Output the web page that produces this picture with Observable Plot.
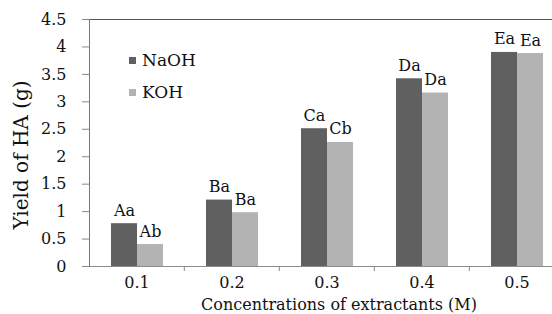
<!DOCTYPE html>
<html>
<head>
<meta charset="utf-8">
<script src="https://cdn.jsdelivr.net/npm/d3@7"></script>
<script src="https://cdn.jsdelivr.net/npm/@observablehq/plot@0.6"></script>
<style>
  html, body { margin: 0; padding: 0; background: #fff; overflow: hidden; }
  #wrap { position: relative; width: 552px; height: 314px; font-family: "DejaVu Serif", serif; }
  #wrap svg, #wrap svg text { font-family: "DejaVu Serif", serif !important; }
  .legend { position: absolute; left: 129px; top: 44px; font-family: "DejaVu Serif", serif; font-size: 17px; color: #111; }
  .legend .item { display: flex; align-items: center; height: 32px; }
  .legend .sw { width: 7px; height: 7px; margin-right: 6px; }
</style>
</head>
<body>
<div id="wrap"></div>
<script>
const concentrations = ["0.1", "0.2", "0.3", "0.4", "0.5"];
const series = ["NaOH", "KOH"];
const naohValues = [0.78, 1.21, 2.51, 3.42, 3.90];
const kohValues = [0.40, 0.98, 2.26, 3.16, 3.88];
const naohLabels = ["Aa", "Ba", "Ca", "Da", "Ea"];
const kohLabels = ["Ab", "Ba", "Cb", "Da", "Ea"];
const yTicks = [0, 0.5, 1, 1.5, 2, 2.5, 3, 3.5, 4, 4.5];
const yTitle = "Yield of HA (g)";
const xTitle = "Concentrations of extractants (M)";
const colors = ["#606060", "#b3b3b3"];

const data = concentrations.flatMap((c, i) => [
  {conc: c, series: "NaOH", value: naohValues[i], label: naohLabels[i]},
  {conc: c, series: "KOH", value: kohValues[i], label: kohLabels[i]}
]);

const width = 552, marginLeft = 88, marginRight = -13;
const bw = (width - marginLeft - marginRight) / concentrations.length;
const font = "DejaVu Serif";

const chart = Plot.plot({
  width, height: 314,
  marginLeft, marginRight, marginTop: 19, marginBottom: 48,
  style: {fontFamily: font, fontSize: "16px", color: "#111", background: "#fff", overflow: "visible"},
  fx: {domain: concentrations, padding: 0, label: null},
  x: {domain: series, paddingInner: 0, paddingOuter: 0.76, axis: null},
  y: {domain: [0, 4.5], label: null},
  color: {domain: series, range: colors},
  marks: [
    Plot.barY(data, {fx: "conc", x: "series", y: "value", fill: "series"}),
    Plot.text(data, {fx: "conc", x: "series", y: "value", text: "label", dy: -8, lineAnchor: "bottom", fontSize: 16, fontFamily: font, fill: "#111"}),
    Plot.ruleY([0], {stroke: "#8c8c8c"}),
    Plot.frame({anchor: "top", facet: "super", stroke: "#555"}),
    Plot.frame({anchor: "left", facet: "super", stroke: "#777"}),
    Plot.axisY({ticks: yTicks, tickFormat: d => String(d), tickSize: 7, tickPadding: 16, stroke: "#888", fill: "#111", fontFamily: font, fontSize: 16, label: null}),
    Plot.axisFx({anchor: "bottom", tickSize: 0, tickPadding: 10, label: null, fill: "#111", fontFamily: font, fontSize: 16}),
    Plot.axisFx({anchor: "bottom", ticks: concentrations.slice(1), tickSize: 5, text: null, dx: -bw / 2, stroke: "#888", label: null}),
    Plot.text([yTitle], {facet: "super", frameAnchor: "left", text: d => d, rotate: -90, textAnchor: "middle", lineAnchor: "middle", dx: -68, dy: 12, fontSize: 20, fontFamily: font, fill: "#111"}),
    Plot.text([xTitle], {facet: "super", frameAnchor: "bottom", text: d => d, textAnchor: "middle", lineAnchor: "middle", dx: 12, dy: 38, fontSize: 16, fontFamily: font, fill: "#111"})
  ]
});

const wrap = document.getElementById("wrap");
wrap.appendChild(chart);

const legend = document.createElement("div");
legend.className = "legend";
series.forEach((s, i) => {
  const item = document.createElement("div");
  item.className = "item";
  const sw = document.createElement("span");
  sw.className = "sw";
  sw.style.background = colors[i];
  const t = document.createElement("span");
  t.textContent = s;
  item.appendChild(sw);
  item.appendChild(t);
  legend.appendChild(item);
});
wrap.appendChild(legend);
</script>
</body>
</html>
